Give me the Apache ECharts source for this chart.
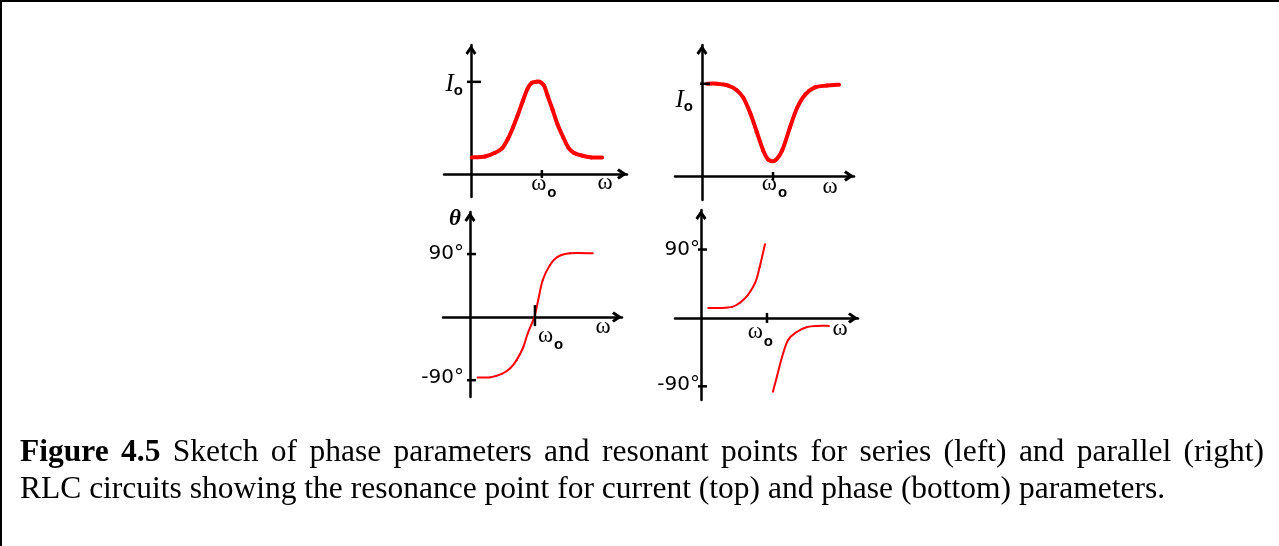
<!DOCTYPE html>
<html>
<head>
<meta charset="utf-8">
<script src="https://cdn.jsdelivr.net/npm/echarts@6/dist/echarts.min.js"></script>
<style>
  html, body { margin: 0; padding: 0; background: #fff; }
  #chart { width: 1279px; height: 546px; }
</style>
</head>
<body>
<div id="chart"></div>
<script>
// ω is measured in units of the resonant frequency ω0, current in units of I0,
// phase in degrees.

// Series RLC: current vs frequency (peak at resonance)
const seriesCurrentW = [0.01, 0.2, 0.34, 0.44, 0.52, 0.59, 0.66, 0.73, 0.8, 0.86, 0.92, 0.97, 1.03, 1.08, 1.15, 1.22, 1.3, 1.37, 1.45, 1.56, 1.7, 1.85];
const seriesCurrentI = [0.18, 0.19, 0.23, 0.28, 0.38, 0.5, 0.64, 0.79, 0.93, 0.99, 1.0, 1.0, 0.96, 0.85, 0.7, 0.54, 0.4, 0.29, 0.23, 0.2, 0.18, 0.18];

// Parallel RLC: current vs frequency (dip at resonance)
const parallelCurrentW = [0.07, 0.21, 0.37, 0.49, 0.58, 0.68, 0.77, 0.86, 0.93, 1.03, 1.13, 1.24, 1.34, 1.45, 1.59, 1.76, 1.93];
const parallelCurrentI = [1.0, 1.0, 0.98, 0.93, 0.85, 0.68, 0.48, 0.28, 0.18, 0.17, 0.28, 0.53, 0.74, 0.88, 0.96, 0.98, 0.99];

// Series RLC: phase vs frequency
const seriesPhaseW = [0.12, 0.31, 0.49, 0.62, 0.72, 0.82, 0.89, 0.99, 1.05, 1.12, 1.23, 1.35, 1.54, 1.89];
const seriesPhaseDeg = [-86, -86, -81, -73, -61, -43, -23, 0, 24, 53, 74, 86, 91, 91];

// Parallel RLC: phase vs frequency, below and above resonance
const parallelPhaseLowW = [0.11, 0.29, 0.47, 0.59, 0.71, 0.82, 0.89, 0.97];
const parallelPhaseLowDeg = [13, 13, 14.5, 20, 30, 46, 67, 97];
const parallelPhaseHighW = [1.09, 1.15, 1.23, 1.32, 1.45, 1.61, 1.77, 1.94];
const parallelPhaseHighDeg = [-97, -77.5, -51, -29, -18.5, -12, -10.5, -10.5];

// Tick positions and their labels
const resonanceTick = 1;          // ω0
const currentTick = 1;            // I0
const phaseTicks = [90, -90];
const phaseTickLabels = ['90°', '-90°'];

// Caption
const captionBold = 'Figure 4.5';
const captionLine1 = 'Sketch of phase parameters and resonant points for series (left) and parallel (right)';
const captionLine2 = 'RLC circuits showing the resonance point for current (top) and phase (bottom) parameters.';

// ---------------------------------------------------------------------------
const GRIDS = [
  { left: 444, top: 45,  width: 183, height: 152, x: [-0.38, 2.2],   y: [-0.25, 1.4] },
  { left: 675, top: 45,  width: 179, height: 155, x: [-0.38, 2.14],  y: [-0.26, 1.42] },
  { left: 443, top: 212, width: 179, height: 185, x: [-0.415, 2.34], y: [-114, 150] },
  { left: 675, top: 210, width: 183, height: 190, x: [-0.394, 2.38], y: [-108, 142] }
];
const INK = '#000';
const RED = '#ff0000';
const ARROW = 'path://M5,0 L10,7.4 L8,9.2 L5,4.9 L2,9.2 L0,7.4 Z';

function axis(range, gridIndex, position) {
  return {
    type: 'value', gridIndex, position, min: range[0], max: range[1],
    axisLine: {
      show: true, onZero: true,
      lineStyle: { color: INK, width: 2.5 },
      symbol: ['none', ARROW], symbolSize: [11, 11], symbolOffset: [0, -5]
    },
    axisTick: { show: false }, axisLabel: { show: false }, splitLine: { show: false }
  };
}

const zip = (xs, ys) => xs.map((x, i) => [x, ys[i]]);

// Smooth curve through the data points: each item draws the Catmull-Rom
// segment from its point to the next one, in the axes' pixel space.
function curve(idx, xs, ys, width) {
  const n = xs.length;
  return {
    type: 'custom', coordinateSystem: 'cartesian2d', xAxisIndex: idx, yAxisIndex: idx,
    data: zip(xs, ys), silent: true, clip: false, z: 3,
    renderItem(params, api) {
      const i = params.dataIndexInside;
      if (i >= n - 1) return null;
      const pt = j => {
        const k = Math.max(0, Math.min(n - 1, j));
        return api.coord([api.value(0, k), api.value(1, k)]);
      };
      const p0 = pt(i - 1), p1 = pt(i), p2 = pt(i + 1), p3 = pt(i + 2);
      return {
        type: 'bezierCurve',
        shape: {
          x1: p1[0], y1: p1[1], x2: p2[0], y2: p2[1],
          cpx1: p1[0] + (p2[0] - p0[0]) / 6, cpy1: p1[1] + (p2[1] - p0[1]) / 6,
          cpx2: p2[0] - (p3[0] - p1[0]) / 6, cpy2: p2[1] - (p3[1] - p1[1]) / 6
        },
        style: { stroke: RED, lineWidth: width, fill: 'none', lineCap: 'round' }
      };
    }
  };
}

const chart = echarts.init(document.getElementById('chart'));
chart.setOption({
  animation: false,
  backgroundColor: '#fff',
  grid: GRIDS.map(g => ({ left: g.left, top: g.top, width: g.width, height: g.height,
                          containLabel: false, outerBoundsMode: 'none' })),
  xAxis: GRIDS.map((g, i) => axis(g.x, i, 'bottom')),
  yAxis: GRIDS.map((g, i) => axis(g.y, i, 'left')),
  series: [
    curve(0, seriesCurrentW, seriesCurrentI, 4),
    curve(1, parallelCurrentW, parallelCurrentI, 4),
    curve(2, seriesPhaseW, seriesPhaseDeg, 2),
    curve(3, parallelPhaseLowW, parallelPhaseLowDeg, 2),
    curve(3, parallelPhaseHighW, parallelPhaseHighDeg, 2)
  ]
});

// ---- ticks, axis labels, caption --------------------------------------------
const px = (g, pt) => chart.convertToPixel({ gridIndex: g }, pt);
const graphics = [];

// frame edges
graphics.push({ type: 'rect', shape: { x: 0, y: 0, width: 1279, height: 2 }, style: { fill: INK }, z: 20 });
graphics.push({ type: 'rect', shape: { x: 0, y: 0, width: 2, height: 546 }, style: { fill: INK }, z: 20 });

function vTick(g, v, up, down) {
  const p = px(g, [v, 0]);
  graphics.push({ type: 'line', shape: { x1: p[0], y1: p[1] - up, x2: p[0], y2: p[1] + down },
                  style: { stroke: INK, lineWidth: 2.5 }, z: 20 });
  return p;
}
function hTick(g, v, left, right) {
  const p = px(g, [0, v]);
  graphics.push({ type: 'line', shape: { x1: p[0] - left, y1: p[1], x2: p[0] + right, y2: p[1] },
                  style: { stroke: INK, lineWidth: 2.5 }, z: 20 });
  return p;
}
const RICH = {
  w: { fontFamily: 'Liberation Serif', fontSize: 23, color: INK, verticalAlign: 'top' },
  s: { fontFamily: 'Liberation Sans', fontWeight: 'bold', fontSize: 15, color: INK, verticalAlign: 'top', padding: [13, 0, 0, 1] },
  I: { fontFamily: 'Liberation Serif', fontStyle: 'italic', fontSize: 25, color: INK, verticalAlign: 'top' },
  t: { fontFamily: 'Liberation Sans', fontWeight: 'bold', fontSize: 15, color: INK, verticalAlign: 'top', padding: [12, 0, 0, 0] }
};
function richText(text, x, y, align) {
  graphics.push({ type: 'text', z: 20, style: { text, x, y, align, verticalAlign: 'top', rich: RICH } });
}
function plainText(text, x, y, align, font) {
  graphics.push({ type: 'text', z: 20, style: { text, x, y, align, verticalAlign: 'middle', font, fill: INK } });
}
const omegaFont = '23px "Liberation Serif"';
const degFont = '20px "DejaVu Sans"';

// top-left: series current
let p = vTick(0, resonanceTick, 4, 4);
richText('{w|ω}{s|o}', p[0] + 2, p[1] - 2, 'center');
p = hTick(0, currentTick, 4, 10);
richText('{I|I}{t|o}', p[0] - 8, p[1] - 10, 'right');
p = px(0, [GRIDS[0].x[1], 0]);
plainText('ω', p[0] - 22, p[1] + 9, 'center', omegaFont);

// top-right: parallel current
p = vTick(1, resonanceTick, 4, 4);
richText('{w|ω}{s|o}', p[0] + 1.5, p[1] - 4, 'center');
p = hTick(1, currentTick, 2, 8);
richText('{I|I}{t|o}', p[0] - 9, p[1] + 4, 'right');
p = px(1, [GRIDS[1].x[1], 0]);
plainText('ω', p[0] - 24, p[1] + 11, 'center', omegaFont);

// bottom-left: series phase
p = vTick(2, resonanceTick, 12, 9);
richText('{w|ω}{s|o}', p[0] + 3, p[1] + 7, 'left');
phaseTicks.forEach((v, k) => {
  const q = hTick(2, v, 3, 6);
  plainText(phaseTickLabels[k], q[0] - 6, q[1] - (v < 0 ? 2 : 0), 'right', degFont);
});
p = px(2, [GRIDS[2].x[1], 0]);
plainText('ω', p[0] - 19, p[1] + 10, 'center', omegaFont);
p = px(2, [0, GRIDS[2].y[1]]);
plainText('θ', p[0] - 15, p[1] + 7, 'center', 'italic bold 23px "Liberation Serif"');

// bottom-right: parallel phase
p = vTick(3, resonanceTick, 5, 5);
richText('{w|ω}{s|o}', p[0] + 6, p[1] + 3, 'right');
phaseTicks.forEach((v, k) => {
  const q = hTick(3, v, 3, 6);
  plainText(phaseTickLabels[k], q[0] - 1, q[1] - (v < 0 ? 2 : 0), 'right', degFont);
});
p = px(3, [GRIDS[3].x[1], 0]);
plainText('ω', p[0] - 18, p[1] + 11, 'center', omegaFont);

// caption: first line justified between the margins, second line left aligned
const CAP_LEFT = 20, CAP_RIGHT = 1264, CAP_SIZE = 31.5;
const capFont = (bold) => (bold ? 'bold ' : '') + CAP_SIZE + 'px "Liberation Serif"';
const ctx = document.createElement('canvas').getContext('2d');
const words = captionBold.split(' ').map(t => ({ t, bold: true }))
  .concat(captionLine1.split(' ').map(t => ({ t, bold: false })));
words.forEach(w => { ctx.font = capFont(w.bold); w.width = ctx.measureText(w.t).width; });
const used = words.reduce((s, w) => s + w.width, 0);
const gap = (CAP_RIGHT - CAP_LEFT - used) / (words.length - 1);
let cx = CAP_LEFT;
words.forEach(w => {
  plainText(w.t, cx, 453, 'left', capFont(w.bold));
  cx += w.width + gap;
});
plainText(captionLine2, CAP_LEFT, 490, 'left', capFont(false));

chart.setOption({ graphic: { elements: graphics } });
</script>
</body>
</html>
